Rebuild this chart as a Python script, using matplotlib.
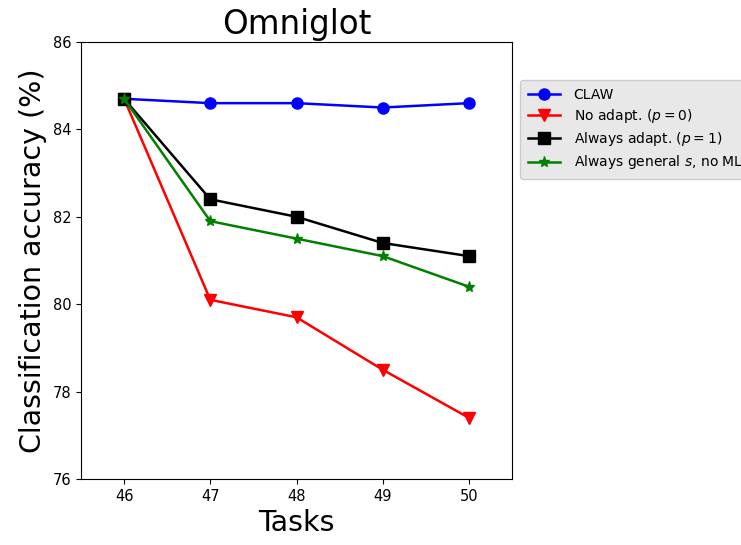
import numpy as np
import matplotlib
matplotlib.use("Agg")
import matplotlib.pyplot as plt

# Tasks on the x axis
tasks = [46, 47, 48, 49, 50]

# Accuracy per method (%)
claw = [84.7, 84.6, 84.6, 84.5, 84.6]
no_adapt = [84.7, 80.1, 79.7, 78.5, 77.4]
always_adapt = [84.7, 82.4, 82.0, 81.4, 81.1]
always_general = [84.7, 81.9, 81.5, 81.1, 80.4]

labels = ["CLAW", r"No adapt. ($p=0$)", r"Always adapt. ($p=1$)",
          r"Always general $s$, no ML"]

fig = plt.figure(figsize=(7.41, 5.45), dpi=100)
ax = fig.add_axes([0.1093, 0.1211, 0.5817, 0.8019])

ax.plot(tasks, claw, color="blue", marker="o", ms=8, lw=1.8, label=labels[0])
ax.plot(tasks, no_adapt, color="red", marker="v", ms=8, lw=1.8, label=labels[1])
ax.plot(tasks, always_adapt, color="black", marker="s", ms=8, lw=1.8, label=labels[2])
ax.plot(tasks, always_general, color="green", marker="*", ms=8, lw=1.8, label=labels[3])

ax.set_xlim(45.5, 50.5)
ax.set_ylim(76, 86)
ax.set_xticks(tasks)
ax.set_yticks([76, 78, 80, 82, 84, 86])
ax.tick_params(labelsize=10.5)

ax.set_title("Omniglot", fontsize=23.5)
ax.set_xlabel("Tasks", fontsize=20.5)
ax.set_ylabel("Classification accuracy (%)", fontsize=20.5)

leg = ax.legend(loc="upper left", bbox_to_anchor=(1.0186, 0.913), borderaxespad=0,
                fontsize=10, labelspacing=0.38, handlelength=2.3, handletextpad=1.0,
                borderpad=0.55, facecolor="#e8e8e8", framealpha=1.0, edgecolor="#cccccc")

fig.savefig("out.png", dpi=100)
